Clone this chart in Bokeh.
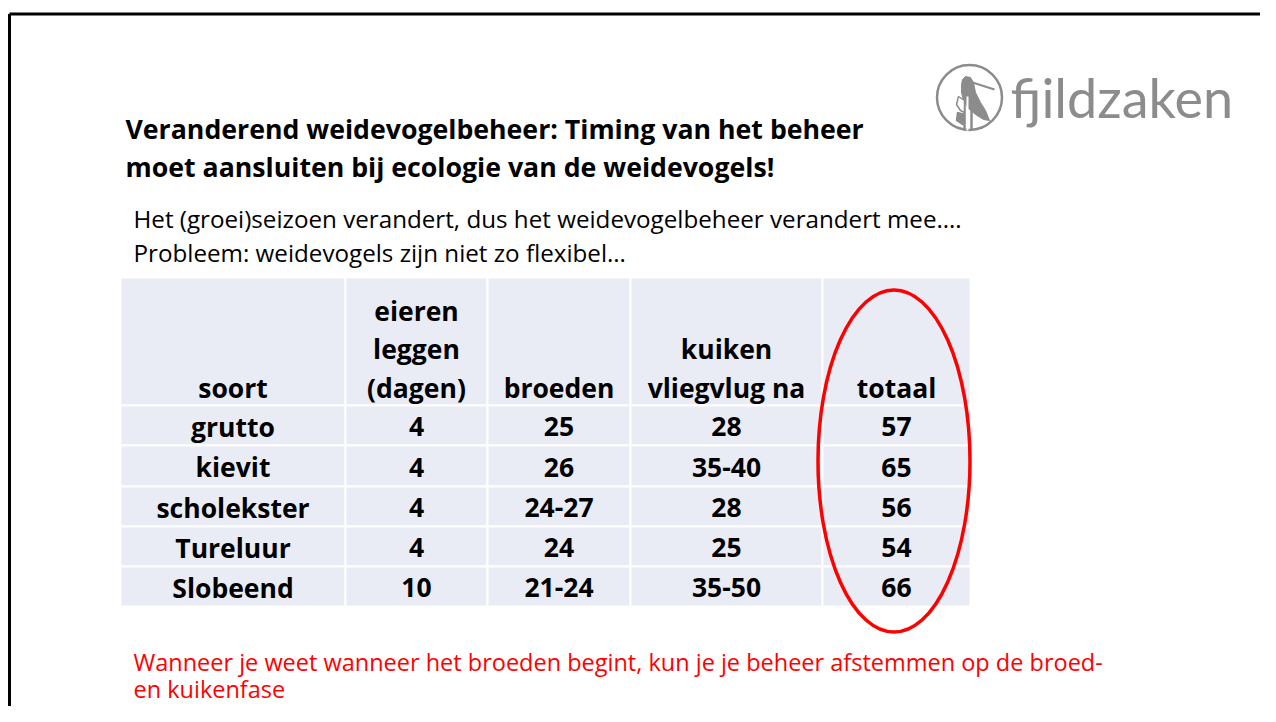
from bokeh.plotting import figure
from bokeh.models import Range1d
from bokeh.core.properties import value
from bokeh.embed import file_html
from bokeh.resources import INLINE

# ---- data ----
headers = [["soort"], ["eieren", "leggen", "(dagen)"], ["broeden"], ["kuiken", "vliegvlug na"], ["totaal"]]
soort = ["grutto", "kievit", "scholekster", "Tureluur", "Slobeend"]
eieren = ["4", "4", "4", "4", "10"]
broeden = ["25", "26", "24-27", "24", "21-24"]
kuiken = ["28", "35-40", "28", "25", "35-50"]
totaal = ["57", "65", "56", "54", "66"]

title_lines = ["Veranderend weidevogelbeheer: Timing van het beheer",
               "moet aansluiten bij ecologie van de weidevogels!"]
sub_lines = ["Het (groei)seizoen verandert, dus het weidevogelbeheer verandert mee….",
             "Probleem: weidevogels zijn niet zo flexibel…"]
note_lines = ["Wanneer je weet wanneer het broeden begint, kun je je beheer afstemmen op de broed-",
              "en kuikenfase"]

FONT = "Open Sans"

W, H = 1260, 706
p = figure(width=W, height=H, output_backend="svg", toolbar_location=None,
           x_range=Range1d(0, W), y_range=Range1d(H, 0),
           min_border=0, outline_line_color=None, background_fill_color="white")
p.axis.visible = False
p.grid.visible = False

# slide frame (top and left edges)
p.line([9, 1300], [13.5, 13.5], line_color="black", line_width=3)
p.line([9, 9], [13.5, 760], line_color="black", line_width=3)

# title
p.text(x=[125, 125], y=[128, 166], text=title_lines, text_font=value(FONT),
       text_font_style="bold", text_font_size="26.7px", text_baseline="middle",
       text_color="black")
# subtitle
p.text(x=[133, 133], y=[218, 252], text=sub_lines, text_font=value(FONT),
       text_font_size="24.2px", text_baseline="middle", text_color="black")
# red note
p.text(x=[133, 133], y=[661, 688], text=note_lines, text_font=value(FONT),
       text_font_size="23.5px", text_baseline="middle", text_color="#FF0000")

# table
cols = [120, 345, 487, 630, 822, 970]
rows = [277, 405, 445, 486, 526, 566, 606]
ql, qr, qt, qb = [], [], [], []
for i in range(len(cols) - 1):
    for j in range(len(rows) - 1):
        ql.append(cols[i]); qr.append(cols[i + 1]); qt.append(rows[j]); qb.append(rows[j + 1])
p.quad(left=ql, right=qr, top=qt, bottom=qb, fill_color="#E9EBF5",
       line_color="white", line_width=2)

cx = [(cols[i] + cols[i + 1]) / 2 for i in range(len(cols) - 1)]
# headers, bottom-aligned
hx, hy, ht = [], [], []
line_h = 38.5
for i, lines in enumerate(headers):
    n = len(lines)
    for k, t in enumerate(lines):
        hx.append(cx[i]); hy.append(387 - (n - 1 - k) * line_h); ht.append(t)
p.text(x=hx, y=hy, text=ht, text_font=value(FONT), text_font_style="bold",
       text_font_size="26.5px", text_align="center", text_baseline="middle", text_color="black")

tx, ty, tt = [], [], []
for i, colvals in enumerate([soort, eieren, broeden, kuiken, totaal]):
    for j, v in enumerate(colvals):
        tx.append(cx[i]); ty.append((rows[j + 1] + rows[j + 2]) / 2 + 1); tt.append(v)
p.text(x=tx, y=ty, text=tt, text_font=value(FONT), text_font_style="bold",
       text_font_size="26.5px", text_align="center", text_baseline="middle", text_color="black")

# red ellipse
p.ellipse(x=[893.5], y=[460.5], width=[152], height=[342], fill_alpha=0,
          line_color="#FF0000", line_width=3.5)

# logo
grey = "#8c8c8c"
p.circle(x=[969], y=[97], radius=32.5, fill_alpha=0, line_color=grey, line_width=2.5)
# bird body
p.patch(x=[965, 970, 973, 975, 980, 985, 989, 983, 975, 968, 963, 961, 961, 962],
        y=[76, 77, 82, 92, 102, 110, 120, 119, 114, 108, 100, 92, 84, 79],
        fill_color=grey, line_color=grey)
# beak
p.line([972, 994], [82, 89], line_color=grey, line_width=2)
# stem and leaves
p.line([967, 967], [96, 130], line_color="white", line_width=2)
p.line([971, 971], [110, 130], line_color=grey, line_width=2.5)
p.line([964, 964], [100, 130], line_color=grey, line_width=2.5)
p.patch(x=[964, 958, 956, 960, 964], y=[100, 96, 104, 110, 112],
        fill_color="white", line_color=grey, line_width=1.5)
p.patch(x=[964, 957, 956, 962, 964], y=[114, 112, 120, 124, 124],
        fill_color=grey, line_color=grey, line_width=1.5)
p.text(x=[1010], y=[97], text=["fjildzaken"], text_font=value("Lato"),
       text_font_size="54px", text_baseline="middle", text_color=grey)

open("out.html", "w").write(file_html(p, INLINE))
